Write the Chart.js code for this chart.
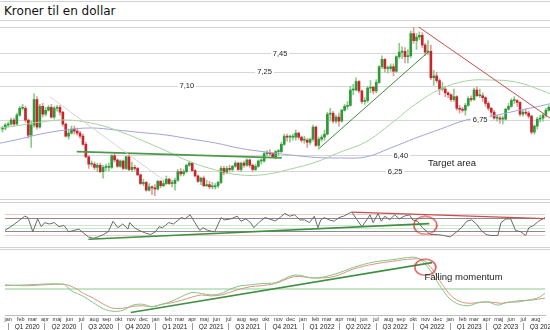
<!DOCTYPE html>
<html lang="da">
<head>
<meta charset="UTF-8">
<title>Kroner til en dollar</title>
<script src="https://cdn.jsdelivr.net/npm/chart.js"></script>
<style>
  body { margin: 0; background: #fff; }
  #wrap { position: relative; width: 550px; height: 330px; overflow: hidden; font-family: "Liberation Sans", Arial, sans-serif; }
  .rule { position: absolute; left: 0; width: 550px; height: 1px; background: #d2d2d2; }
  #title { position: absolute; left: 4px; top: 4px; font: 12px "Comic Sans MS", "DejaVu Sans", sans-serif; color: #111; }
  canvas { position: absolute; left: 0; }
</style>
</head>
<body>
<div id="wrap">
  <div class="rule" style="top:1px"></div>
  <div id="title">Kroner til en dollar</div>
  <div class="rule" style="top:20px"></div>
  <div class="rule" style="top:27px"></div>
  <div class="rule" style="top:199px"></div>
  <div class="rule" style="top:202px"></div>
  <div class="rule" style="top:247px"></div>
  <div class="rule" style="top:249px"></div>
  <canvas id="price" style="top:27px" width="550" height="172"></canvas>
  <canvas id="rsi" style="top:203px" width="550" height="44"></canvas>
  <canvas id="macd" style="top:250px" width="550" height="80"></canvas>
</div>

<script>
  // weekly candles in DKK per USD, first week starts 2019-12-30, open = previous close
  const firstWeek = '2019-12-30';
  const prevClose = 6.66;
  const closes = [
    6.67,6.70,6.71,6.75,6.71,6.80,6.87,6.87,6.75,6.60,
    6.70,6.96,6.68,6.89,6.81,6.85,6.88,6.78,6.87,6.88,
    6.83,6.71,6.59,6.62,6.66,6.64,6.62,6.59,6.51,6.39,
    6.32,6.32,6.29,6.31,6.25,6.29,6.29,6.29,6.40,6.36,
    6.30,6.35,6.28,6.39,6.27,6.29,6.28,6.22,6.14,6.15,
    6.08,6.11,6.10,6.09,6.16,6.12,6.14,6.18,6.14,6.14,
    6.17,6.25,6.23,6.25,6.31,6.33,6.26,6.21,6.16,6.19,
    6.12,6.13,6.11,6.11,6.12,6.15,6.28,6.24,6.28,6.27,
    6.30,6.33,6.27,6.33,6.31,6.36,6.31,6.27,6.30,6.35,
    6.35,6.42,6.43,6.42,6.39,6.44,6.44,6.51,6.59,6.58,
    6.58,6.58,6.62,6.58,6.55,6.55,6.53,6.56,6.68,6.50,
    6.56,6.58,6.61,6.81,6.82,6.74,6.78,6.74,6.85,6.89,
    6.90,7.06,7.06,7.15,7.05,6.94,6.95,7.08,7.09,7.05,
    7.14,7.31,7.39,7.29,7.29,7.31,7.26,7.42,7.47,7.48,
    7.42,7.43,7.68,7.60,7.64,7.66,7.55,7.47,7.48,7.19,
    7.21,7.16,7.07,7.07,7.03,7.01,6.96,6.99,6.87,6.86,
    6.85,6.90,6.97,6.96,7.06,7.00,7.00,6.98,6.92,6.87,
    6.83,6.77,6.77,6.76,6.76,6.86,6.89,6.95,6.95,6.93,
    6.81,6.83,6.82,6.79,6.63,6.69,6.76,6.77,6.80,6.85,
    6.88
  ];
  const highs = [
    6.69,6.72,6.73,6.77,6.77,6.82,6.89,6.91,6.89,6.76,
    6.74,7.02,6.99,6.91,6.92,6.88,6.90,6.91,6.89,6.90,
    6.90,6.84,6.72,6.66,6.69,6.69,6.67,6.64,6.61,6.53,
    6.40,6.35,6.34,6.33,6.33,6.31,6.32,6.33,6.41,6.42,
    6.37,6.36,6.36,6.40,6.42,6.34,6.31,6.29,6.23,6.18,
    6.16,6.14,6.12,6.13,6.17,6.17,6.17,6.21,6.19,6.17,
    6.19,6.27,6.28,6.27,6.32,6.35,6.34,6.27,6.22,6.20,
    6.21,6.17,6.16,6.15,6.14,6.16,6.30,6.30,6.30,6.31,
    6.31,6.35,6.34,6.34,6.35,6.37,6.37,6.32,6.32,6.36,
    6.37,6.44,6.45,6.46,6.43,6.45,6.46,6.53,6.61,6.61,
    6.60,6.61,6.65,6.63,6.59,6.59,6.57,6.57,6.70,6.69,
    6.58,6.60,6.65,6.83,6.87,6.84,6.80,6.82,6.86,6.91,
    6.94,7.10,7.12,7.19,7.16,7.06,6.98,7.10,7.16,7.10,
    7.17,7.32,7.43,7.40,7.32,7.34,7.34,7.43,7.57,7.53,
    7.52,7.50,7.71,7.80,7.68,7.70,7.69,7.57,7.60,7.55,
    7.27,7.25,7.18,7.14,7.10,7.04,7.02,7.07,7.00,6.90,
    6.88,6.92,6.99,7.00,7.08,7.09,7.07,7.03,6.99,6.94,
    6.88,6.85,6.80,6.79,6.79,6.87,6.92,6.97,6.99,6.96,
    6.94,6.85,6.86,6.84,6.80,6.70,6.78,6.80,6.82,6.87,
    6.90
  ];
  const lows = [
    6.63,6.65,6.68,6.70,6.69,6.70,6.79,6.85,6.73,6.57,
    6.48,6.68,6.66,6.67,6.78,6.79,6.84,6.77,6.76,6.84,
    6.80,6.69,6.58,6.56,6.61,6.61,6.60,6.57,6.50,6.38,
    6.28,6.30,6.27,6.25,6.24,6.19,6.26,6.26,6.28,6.34,
    6.29,6.29,6.27,6.27,6.26,6.25,6.26,6.21,6.13,6.12,
    6.07,6.07,6.04,6.03,6.08,6.10,6.11,6.13,6.13,6.11,
    6.08,6.16,6.21,6.21,6.24,6.30,6.25,6.20,6.15,6.13,
    6.11,6.11,6.09,6.09,6.09,6.10,6.14,6.22,6.23,6.25,
    6.25,6.29,6.26,6.25,6.29,6.30,6.29,6.25,6.26,6.29,
    6.32,6.34,6.40,6.40,6.38,6.37,6.40,6.43,6.50,6.54,
    6.53,6.55,6.55,6.56,6.53,6.52,6.48,6.51,6.54,6.49,
    6.48,6.54,6.55,6.60,6.74,6.72,6.72,6.69,6.73,6.84,
    6.86,6.89,7.01,7.05,7.03,6.92,6.91,6.93,7.03,7.02,
    7.03,7.13,7.29,7.25,7.24,7.26,7.21,7.25,7.40,7.40,
    7.35,7.35,7.41,7.57,7.50,7.61,7.52,7.43,7.44,7.17,
    7.11,7.14,7.01,7.05,6.99,6.98,6.94,6.94,6.85,6.82,
    6.83,6.80,6.89,6.94,6.95,6.99,6.98,6.94,6.89,6.85,
    6.79,6.76,6.74,6.72,6.71,6.75,6.85,6.88,6.92,6.89,
    6.79,6.79,6.80,6.77,6.61,6.61,6.66,6.73,6.74,6.78,
    6.84
  ];

  // moving averages, read every second month
  const maMonths = ['2019-12','2020-02','2020-04','2020-06','2020-08','2020-10','2020-12','2021-02',
                    '2021-04','2021-06','2021-08','2021-10','2021-12','2022-02','2022-04','2022-06',
                    '2022-08','2022-10','2022-12','2023-02','2023-04','2023-06','2023-08','2023-10'];
  const maFast = [6.661,6.691,6.731,6.751,6.721,6.651,6.553,6.446,6.341,6.266,6.219,6.224,
                  6.275,6.341,6.436,6.532,6.711,6.914,7.071,7.156,7.166,7.145,7.060,6.955];
  const maSlow = [6.504,6.553,6.611,6.651,6.671,6.651,6.626,6.601,6.562,6.523,6.470,6.436,
                  6.407,6.384,6.379,6.388,6.475,6.572,6.661,6.751,6.787,6.842,6.894,6.955];

  // marked price levels and where their labels sit
  const levels = [7.45, 7.25, 7.10, 6.75, 6.40, 6.25];
  const levelLabelAt = ['2021-11-05','2021-09-28','2021-03-23','2023-03-07','2022-08-26','2022-08-12'];

  // hand-drawn trend lines: [date, value] end points
  const fadedLine = [['2020-04-23', 6.99], ['2021-01-26', 6.17]];
  const supportLine = [['2020-06-28', 6.44], ['2021-11-09', 6.38]];
  const riseLine = [['2022-02-05', 6.46], ['2022-10-31', 7.47]];
  const fallLine = [['2022-09-25', 7.80], ['2023-08-24', 6.77]];

  // RSI, sample points as day numbers counted from 2020-01-01
  const rsiDays = [-8,16,29,41,49,61,73,82,90,102,114,126,138,150,163,175,187,199,211,223,
    236,248,260,272,284,297,301,313,325,341,353,365,374,382,390,398,410,422,430,438,
    451,463,475,483,495,512,528,536,552,568,577,589,601,609,621,637,654,662,674,686,
    698,710,723,735,747,759,768,775,784,796,808,820,832,844,852,865,877,889,897,905,
    917,925,934,946,958,970,982,995,1003,1015,1027,1039,1047,1064,1080,1096,1112,1124,1137,1149,
    1161,1173,1185,1197,1214,1222,1234,1246,1258,1271,1283,1291,1303,1315,1331];
  const rsiValues = [34,53,65,76,72,30,68,45,57,53,57,45,49,30,34,38,26,15,11,15,
    22,30,61,42,53,38,57,42,34,26,22,30,45,42,49,57,53,65,72,68,
    80,57,34,42,34,30,72,65,68,76,61,68,57,42,57,72,65,62,72,84,
    76,80,65,65,57,76,42,65,72,65,61,72,76,84,88,65,45,65,80,57,
    84,61,76,65,80,68,76,80,65,61,42,30,22,22,19,15,30,42,61,65,
    53,34,22,19,19,57,68,68,34,30,19,42,49,61,72];
  const rsiGrid = [20, 30, 40, 50, 70, 80];
  const rsiRise = [['2020-07-18', 8], ['2022-11-10', 54]];
  const rsiFall = [['2022-05-02', 88], ['2023-08-24', 69]];

  // MACD and signal line
  const macdDays = [-8,48,138,155,187,211,236,260,284,309,333,357,382,406,430,455,479,503,528,552,
    577,601,625,662,710,759,808,857,905,954,1002,1020,1044,1068,1093,1117,1141,1166,1190,1214,
    1239,1263,1287,1312,1331];
  const macdValues = [0.37,0.47,0.53,-0.13,-0.8,-1.47,-2.13,-2.4,-2.3,-1.73,-1.63,-1.9,-1.63,-1.3,-0.8,
    -0.37,-0.47,-0.63,-0.47,0.03,0.37,0.47,0.6,0.7,1.53,1.2,1.6,2.37,2.93,3.2,3.47,3.27,2.2,0.53,-0.97,
    -1.63,-1.8,-1.47,-1.4,-1.73,-1.4,-1.4,-1.2,-0.97,-0.47];
  const signalDays = [-8,41,89,138,162,187,211,236,260,284,309,333,357,382,406,430,455,479,503,528,
    552,577,601,625,662,710,759,808,857,905,954,1002,1027,1051,1076,1100,1124,1149,1173,1197,
    1222,1246,1270,1295,1331];
  const signalValues = [0.47,0.37,0.47,0.53,0.2,-0.47,-0.97,-1.63,-2.07,-2.07,-1.87,-1.8,-1.9,-1.63,-1.47,
    -1.2,-0.87,-0.63,-0.73,-0.63,-0.3,0.03,0.27,0.37,0.6,1.37,1.2,1.37,2.2,2.7,3.03,3.27,3.2,2.2,0.53,
    -0.8,-1.4,-1.53,-1.4,-1.4,-1.53,-1.4,-1.23,-1.2,-0.97];
  const macdRise = [['2020-10-31', -2.53], ['2022-11-17', 2.87]];

  const turnDate = '2022-10-31';
  const rsiTurn = 49, macdTurn = 2.37;

  // axis labels
  const monthNames = ['jan','feb','mar','apr','maj','jun','jul','aug','sep','okt','nov','dec'];
  const quarterLabels = ['Q1 2020','Q2 2020','Q3 2020','Q4 2020','Q1 2021','Q2 2021','Q3 2021','Q4 2021',
                         'Q1 2022','Q2 2022','Q3 2022','Q4 2022','Q1 2023','Q2 2023','Q3 2023'];

  const EPOCH = Date.UTC(2020, 0, 1);
  const dayOf = s => (Date.parse(s) - EPOCH) / 864e5;
  const X_MIN = dayOf('2019-12-24');
  const X_MAX = dayOf('2023-08-24');
  const FONT = '"Liberation Sans", Arial, sans-serif';

  const week0 = dayOf(firstWeek);
  const opens = closes.map((c, i) => (i ? closes[i - 1] : prevClose));
  const rising = i => closes[i] >= opens[i];
  const bodies = closes.map((c, i) => ({ x: week0 + 7 * i, y: [opens[i], c] }));
  const wicks = closes.map((c, i) => ({ x: week0 + 7 * i, y: [lows[i], highs[i]] }));
  const seg = pts => pts.map(([d, v]) => ({ x: dayOf(d), y: v }));
  const pairs = (xs, ys) => xs.map((x, i) => ({ x, y: ys[i] }));

  const monthTicks = [], monthLabels = [];
  for (let y = 2020; y <= 2023; y++) {
    monthNames.forEach((m, k) => {
      const d = dayOf(y + '-' + String(k + 1).padStart(2, '0') + '-01');
      if (d <= X_MAX) { monthTicks.push(d); monthLabels.push(m); }
    });
  }
  const quarterTicks = quarterLabels.map(q => {
    const [qq, yy] = q.split(' ');
    return dayOf(yy + '-' + String((+qq[1] - 1) * 3 + 1).padStart(2, '0') + '-01');
  });

  // ellipse used as a point marker for the circled spots
  function ring(w, h, color) {
    const c = document.createElement('canvas');
    c.width = w + 2; c.height = h + 2;
    const g = c.getContext('2d');
    g.strokeStyle = color; g.lineWidth = 1.2;
    g.beginPath(); g.ellipse(c.width / 2, c.height / 2, w / 2, h / 2, 0, 0, Math.PI * 2); g.stroke();
    return c;
  }

  // text drawn at data coordinates
  function notes(items) {
    return {
      id: 'notes',
      afterDatasetsDraw(chart) {
        const { ctx, scales } = chart;
        items.forEach(n => {
          const x = scales.x.getPixelForValue(n.x);
          const y = scales.y.getPixelForValue(n.y);
          ctx.save();
          ctx.font = n.face;
          ctx.textBaseline = 'middle';
          ctx.textAlign = n.align;
          if (n.box) {
            const w = ctx.measureText(n.text).width;
            const left = n.align === 'center' ? x - w / 2 : x;
            ctx.fillStyle = '#fff';
            ctx.fillRect(left - 2, y - 4, w + 4, 8);
          }
          ctx.fillStyle = '#222';
          ctx.fillText(n.text, x, y);
          ctx.restore();
        });
      }
    };
  }

  const hiddenX = () => ({ type: 'linear', min: X_MIN, max: X_MAX, offset: false, display: false });
  const gridY = extra => Object.assign({
    position: 'left',
    ticks: { display: false },
    border: { display: false },
    grid: { drawTicks: false, color: '#d6d6d6' },
    afterFit: s => { s.width = 0; }
  }, extra);
  const base = {
    responsive: false, animation: false, events: [],
    layout: { padding: 0 },
    plugins: { legend: { display: false }, tooltip: { enabled: false } }
  };
  const line = (data, color, width, extra) => Object.assign({
    type: 'line', data, borderColor: color, borderWidth: width, pointRadius: 0, fill: false, order: 1
  }, extra);

  new Chart(document.getElementById('price'), {
    type: 'bar',
    data: {
      datasets: [
        line(seg(fadedLine), '#dcd2d2', 1),
        line(seg(supportLine), '#4a9a4a', 1.6),
        line(seg(riseLine), '#3f8c3f', 1),
        line(seg(fallLine), '#c4504c', 1),
        line(maMonths.map((m, i) => ({ x: dayOf(m + '-01'), y: maFast[i] })), '#a6d3a0', 1, { tension: 0.4, order: 3 }),
        line(maMonths.map((m, i) => ({ x: dayOf(m + '-01'), y: maSlow[i] })), '#a3a3d8', 1, { tension: 0.4, order: 3 }),
        { data: bodies, barThickness: 2, minBarLength: 1, grouped: false, order: 4,
          backgroundColor: c => (rising(c.dataIndex) ? '#2e9936' : '#c4262b') },
        { data: wicks, barThickness: 1, grouped: false, order: 5,
          backgroundColor: c => (rising(c.dataIndex) ? '#8cc98c' : '#e59a9a') }
      ]
    },
    options: Object.assign({}, base, {
      scales: {
        x: hiddenX(),
        y: gridY({ type: 'logarithmic', min: 6.0, max: 7.756,
          afterBuildTicks: s => { s.ticks = levels.map(v => ({ value: v })); } })
      }
    }),
    plugins: [notes(
      levels.map((v, i) => ({ x: dayOf(levelLabelAt[i]), y: v, text: v.toFixed(2).replace('.', ','),
        face: '7.5px ' + FONT, align: 'center', box: true }))
        .concat([{ x: dayOf(turnDate), y: 6.33, text: 'Target area', face: '9.5px ' + FONT, align: 'left' }])
    )]
  });

  new Chart(document.getElementById('rsi'), {
    type: 'line',
    data: {
      datasets: [
        line(pairs(rsiDays, rsiValues), '#6a6a6a', 1, { order: 2 }),
        line(seg(rsiRise), '#3f9142', 1.6),
        line(seg(rsiFall), '#c4504c', 1.2),
        { type: 'scatter', data: [{ x: dayOf(turnDate), y: rsiTurn }], pointStyle: ring(23, 18, '#cc3333'), order: 0 }
      ]
    },
    options: Object.assign({}, base, {
      scales: {
        x: hiddenX(),
        y: gridY({ min: 0, max: 100,
          afterBuildTicks: s => { s.ticks = rsiGrid.map(v => ({ value: v })); },
          grid: { drawTicks: false, color: c => ({ 20: '#ecc8c8', 80: '#ecc8c8', 30: '#8c8c8c', 70: '#8c8c8c' }[c.tick.value] || '#cfe6cf') } })
      }
    })
  });

  new Chart(document.getElementById('macd'), {
    type: 'line',
    data: {
      datasets: [
        line(pairs(macdDays, macdValues), '#86c486', 1, { tension: 0.3, order: 2 }),
        line(pairs(signalDays, signalValues), '#d6957f', 1, { tension: 0.3, order: 2 }),
        line(seg(macdRise), '#3f9142', 1.6),
        { type: 'scatter', data: [{ x: dayOf(turnDate), y: macdTurn }], pointStyle: ring(21, 16, '#cc3333'), order: 0 }
      ]
    },
    options: Object.assign({}, base, {
      scales: {
        x: { type: 'linear', min: X_MIN, max: X_MAX, offset: false, position: 'bottom', weight: 0,
          afterBuildTicks: s => { s.ticks = monthTicks.map(v => ({ value: v })); },
          afterFit: s => { s.height = 8; s.paddingLeft = 0; s.paddingRight = 0; },
          ticks: { autoSkip: false, maxRotation: 0, padding: 1, color: '#333',
            font: { size: 5.5, family: FONT }, callback: (v, i) => monthLabels[i] },
          grid: { drawOnChartArea: false, drawTicks: false },
          border: { display: true, color: '#bdbdbd' } },
        xq: { type: 'linear', min: X_MIN, max: X_MAX, offset: false, position: 'bottom', weight: 1,
          afterBuildTicks: s => { s.ticks = quarterTicks.map(v => ({ value: v })); },
          afterFit: s => { s.height = 7; s.paddingLeft = 0; s.paddingRight = 0; },
          ticks: { autoSkip: false, maxRotation: 0, padding: -7, labelOffset: 19, color: '#222',
            font: { size: 6.5, family: FONT }, callback: (v, i) => quarterLabels[i] },
          grid: { drawOnChartArea: false, tickLength: 7, color: '#9a9a9a' },
          border: { display: false } },
        y: gridY({ min: -2.8, max: 3.7,
          afterBuildTicks: s => { s.ticks = [{ value: 0 }]; },
          grid: { drawTicks: false, color: '#c6e4c6', lineWidth: 2 } })
      }
    }),
    plugins: [notes([{ x: dayOf('2022-10-29'), y: 1.3, text: 'Falling momentum', face: '9.5px ' + FONT, align: 'left' }])]
  });
</script>
</body>
</html>
